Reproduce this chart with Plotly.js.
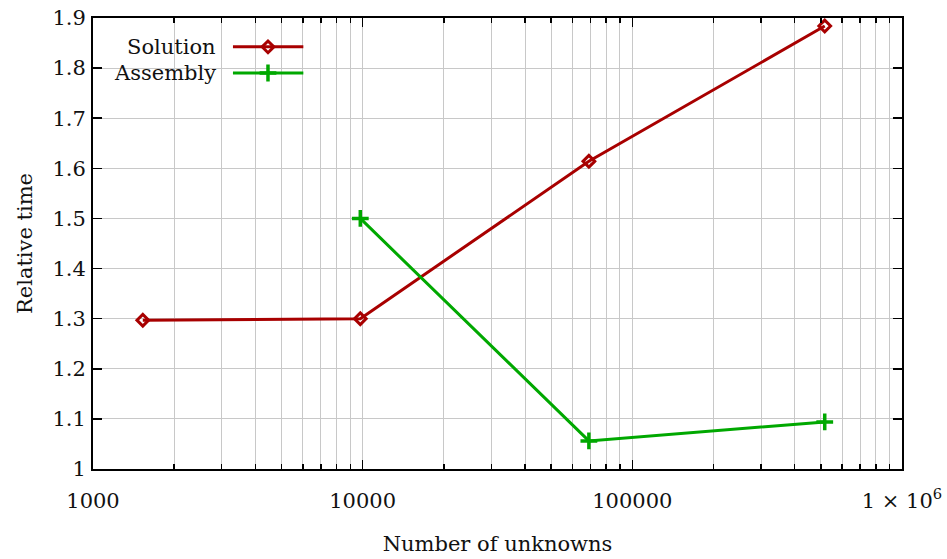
<!DOCTYPE html>
<html>
<head>
<meta charset="utf-8">
<script src="https://cdn.plot.ly/plotly-3.0.1.min.js"></script>
<style>
  html, body { margin: 0; padding: 0; background: #fff; }
  #chart { width: 947px; height: 559px; }
</style>
</head>
<body>
<div id="chart"></div>
<script>
// Relative time vs. problem size (number of unknowns)
const solutionUnknowns = [1530, 9800, 69000, 517000];
const solutionTime     = [1.297, 1.300, 1.614, 1.884];

const assemblyUnknowns = [9800, 69000, 517000];
const assemblyTime     = [1.500, 1.056, 1.094];

const xTickVals = [1000, 10000, 100000, 1000000];
const xTickText = ['1000', '10000', '100000', '1 × 10<sup>6</sup>'];
const yTickVals = [1, 1.1, 1.2, 1.3, 1.4, 1.5, 1.6, 1.7, 1.8, 1.9];
const yTickText = ['1', '1.1', '1.2', '1.3', '1.4', '1.5', '1.6', '1.7', '1.8', '1.9'];

const seriesNames = ['Solution', 'Assembly'];

const RED = '#a80000';
const GREEN = '#00a800';
const FONT = "'DejaVu Serif', 'Liberation Serif', serif";
const FS = 21;

// key rows (unit overlay coordinates)
const keyY = [0.936, 0.878];

const traces = [
  {
    x: solutionUnknowns, y: solutionTime, name: seriesNames[0],
    type: 'scatter', mode: 'lines+markers',
    line: { color: RED, width: 3 },
    marker: { symbol: 'diamond-open', size: 9, color: RED, line: { color: RED, width: 3 } },
    showlegend: false
  },
  {
    x: assemblyUnknowns, y: assemblyTime, name: seriesNames[1],
    type: 'scatter', mode: 'lines+markers',
    line: { color: GREEN, width: 3 },
    marker: { symbol: 'cross-thin', size: 12, color: GREEN, line: { color: GREEN, width: 3.5 } },
    showlegend: false
  },
  {
    x: [0.173, 0.26], y: [keyY[0], keyY[0]], xaxis: 'x2', yaxis: 'y2',
    type: 'scatter', mode: 'lines', line: { color: RED, width: 3 },
    hoverinfo: 'skip', showlegend: false
  },
  {
    x: [0.2163], y: [keyY[0]], xaxis: 'x2', yaxis: 'y2',
    type: 'scatter', mode: 'markers',
    marker: { symbol: 'diamond-open', size: 9, color: RED, line: { color: RED, width: 3 } },
    hoverinfo: 'skip', showlegend: false
  },
  {
    x: [0.173, 0.26], y: [keyY[1], keyY[1]], xaxis: 'x2', yaxis: 'y2',
    type: 'scatter', mode: 'lines', line: { color: GREEN, width: 3 },
    hoverinfo: 'skip', showlegend: false
  },
  {
    x: [0.2163], y: [keyY[1]], xaxis: 'x2', yaxis: 'y2',
    type: 'scatter', mode: 'markers',
    marker: { symbol: 'cross-thin', size: 12, color: GREEN, line: { color: GREEN, width: 3.5 } },
    hoverinfo: 'skip', showlegend: false
  }
];

const layout = {
  width: 947, height: 559,
  margin: { l: 93, r: 45, t: 18, b: 90 },
  paper_bgcolor: '#fff', plot_bgcolor: '#fff',
  font: { family: FONT, size: FS, color: '#111' },
  showlegend: false,
  xaxis: {
    type: 'log', range: [3, 6],
    tickmode: 'array', tickvals: xTickVals, ticktext: xTickText,
    ticks: 'inside', ticklen: 9, tickwidth: 1.5, tickcolor: '#000',
    ticklabelstandoff: 12,
    showline: true, linecolor: '#000', linewidth: 2, mirror: 'ticks',
    showgrid: true, gridcolor: '#c8c8c8', gridwidth: 1,
    minor: { dtick: 'D1', ticks: 'inside', ticklen: 5, tickwidth: 1.5, tickcolor: '#000',
             showgrid: true, gridcolor: '#c8c8c8', gridwidth: 1 },
    zeroline: false,
    title: { text: 'Number of unknowns', standoff: 24, font: { family: FONT, size: FS } }
  },
  yaxis: {
    range: [1, 1.9],
    tickmode: 'array', tickvals: yTickVals, ticktext: yTickText,
    ticks: 'inside', ticklen: 9, tickwidth: 1.5, tickcolor: '#000',
    ticklabelstandoff: 1,
    showline: true, linecolor: '#000', linewidth: 2, mirror: 'ticks',
    showgrid: true, gridcolor: '#c8c8c8', gridwidth: 1,
    zeroline: false,
    title: { text: 'Relative time', standoff: 14, font: { family: FONT, size: FS } }
  },
  xaxis2: { overlaying: 'x', range: [0, 1], visible: false, fixedrange: true },
  yaxis2: { overlaying: 'y', range: [0, 1], visible: false, fixedrange: true },
  annotations: [
    { xref: 'paper', yref: 'paper', x: 0.154, y: keyY[0], xanchor: 'right', yanchor: 'middle',
      text: seriesNames[0], showarrow: false, font: { family: FONT, size: FS, color: '#111' } },
    { xref: 'paper', yref: 'paper', x: 0.154, y: keyY[1], xanchor: 'right', yanchor: 'middle',
      text: seriesNames[1], showarrow: false, font: { family: FONT, size: FS, color: '#111' } }
  ]
};

Plotly.newPlot('chart', traces, layout, { displayModeBar: false, staticPlot: true });
</script>
</body>
</html>
